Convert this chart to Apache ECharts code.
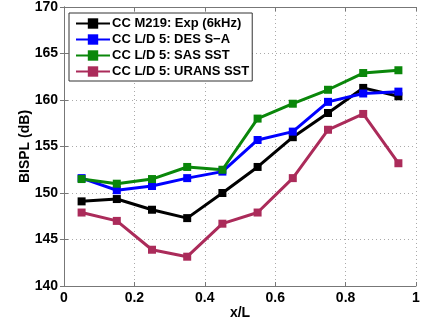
<!DOCTYPE html>
<html>
<head>
<meta charset="utf-8">
<script src="https://cdn.jsdelivr.net/npm/echarts@6/dist/echarts.min.js"></script>
<style>
  html, body { margin: 0; padding: 0; background: #fff; }
  #chart { width: 423px; height: 327px; }
</style>
</head>
<body>
<div id="chart"></div>
<script>
// x/L stations
const xPos = [0.05, 0.15, 0.25, 0.35, 0.45, 0.55, 0.65, 0.75, 0.85, 0.95];
const expData = [149.1, 149.35, 148.2, 147.3, 150.0, 152.8, 156.0, 158.6, 161.3, 160.4];
const desData = [151.6, 150.3, 150.75, 151.6, 152.3, 155.7, 156.6, 159.8, 160.7, 160.9];
const sasData = [151.5, 151.0, 151.5, 152.8, 152.5, 158.0, 159.6, 161.1, 162.9, 163.2];
const uransData = [147.9, 147.0, 143.9, 143.15, 146.7, 147.9, 151.6, 156.8, 158.5, 153.2];

const names = ['CC M219: Exp (6kHz)', 'CC L/D 5: DES S\u2212A', 'CC L/D 5: SAS SST', 'CC L/D 5: URANS SST'];
const colors = ['#000000', '#0000ff', '#0a870a', '#ab2b5a'];
const values = [expData, desData, sasData, uransData];

const font = 'Liberation Sans, Arial, sans-serif';
const axisCol = '#777';

function pairs(arr) {
    return xPos.map((x, i) => [x, arr[i]]);
}

var myChart = echarts.init(document.getElementById('chart'));

let option = {
    animation: false,
    textStyle: { fontFamily: font },
    grid: { left: 64, right: 7, top: 7, bottom: 41, outerBoundsMode: 'none', containLabel: false },
    legend: {
        orient: 'vertical',
        left: 69,
        top: 13,
        padding: [4, 3, 3, 6],
        itemGap: 3,
        itemWidth: 34,
        itemHeight: 13,
        backgroundColor: '#fff',
        borderColor: '#333',
        borderWidth: 1,
        borderRadius: 0,
        textStyle: { fontSize: 13, fontWeight: 'bold', color: '#000', fontFamily: font, padding: [0, 0, 0, -3] },
        data: names
    },
    xAxis: [{
        type: 'value', min: 0, max: 1, interval: 0.2,
        name: 'x/L', nameLocation: 'middle', nameGap: 20, nameMoveOverlap: false,
        nameTextStyle: { fontSize: 14, fontWeight: 'bold', color: '#000' },
        axisLine: { lineStyle: { color: axisCol } },
        axisTick: { inside: true, length: 4, lineStyle: { color: axisCol } },
        axisLabel: { fontSize: 14, fontWeight: 'bold', color: '#000', margin: 5 },
        splitLine: { show: true, lineStyle: { color: '#aaa', type: [1, 3] } }
    }, {
        type: 'value', min: 0, max: 1, interval: 0.2, position: 'top',
        axisLine: { show: true, lineStyle: { color: axisCol } },
        axisTick: { show: true, inside: true, length: 4, lineStyle: { color: axisCol } },
        axisLabel: { show: false },
        splitLine: { show: false }
    }],
    yAxis: [{
        type: 'value', min: 140, max: 170, interval: 5,
        name: 'BISPL (dB)', nameLocation: 'middle', nameGap: 32, nameRotate: 90, nameMoveOverlap: false,
        nameTextStyle: { fontSize: 14, fontWeight: 'bold', color: '#000' },
        axisLine: { show: true, lineStyle: { color: axisCol } },
        axisTick: { show: true, inside: true, length: 4, lineStyle: { color: axisCol } },
        axisLabel: { fontSize: 14, fontWeight: 'bold', color: '#000', margin: 6 },
        splitLine: { show: true, lineStyle: { color: '#aaa', type: [1, 3] } }
    }, {
        type: 'value', min: 140, max: 170, interval: 5, position: 'right',
        axisLine: { show: true, lineStyle: { color: axisCol } },
        axisTick: { show: true, inside: true, length: 4, lineStyle: { color: axisCol } },
        axisLabel: { show: false },
        splitLine: { show: false }
    }],
    series: names.map((n, i) => ({
        name: n,
        type: 'line',
        data: pairs(values[i]),
        symbol: 'rect',
        symbolSize: 8,
        color: colors[i],
        lineStyle: { width: 3, color: colors[i] },
        itemStyle: { color: colors[i] }
    }))
};
myChart.setOption(option);
</script>
</body>
</html>
